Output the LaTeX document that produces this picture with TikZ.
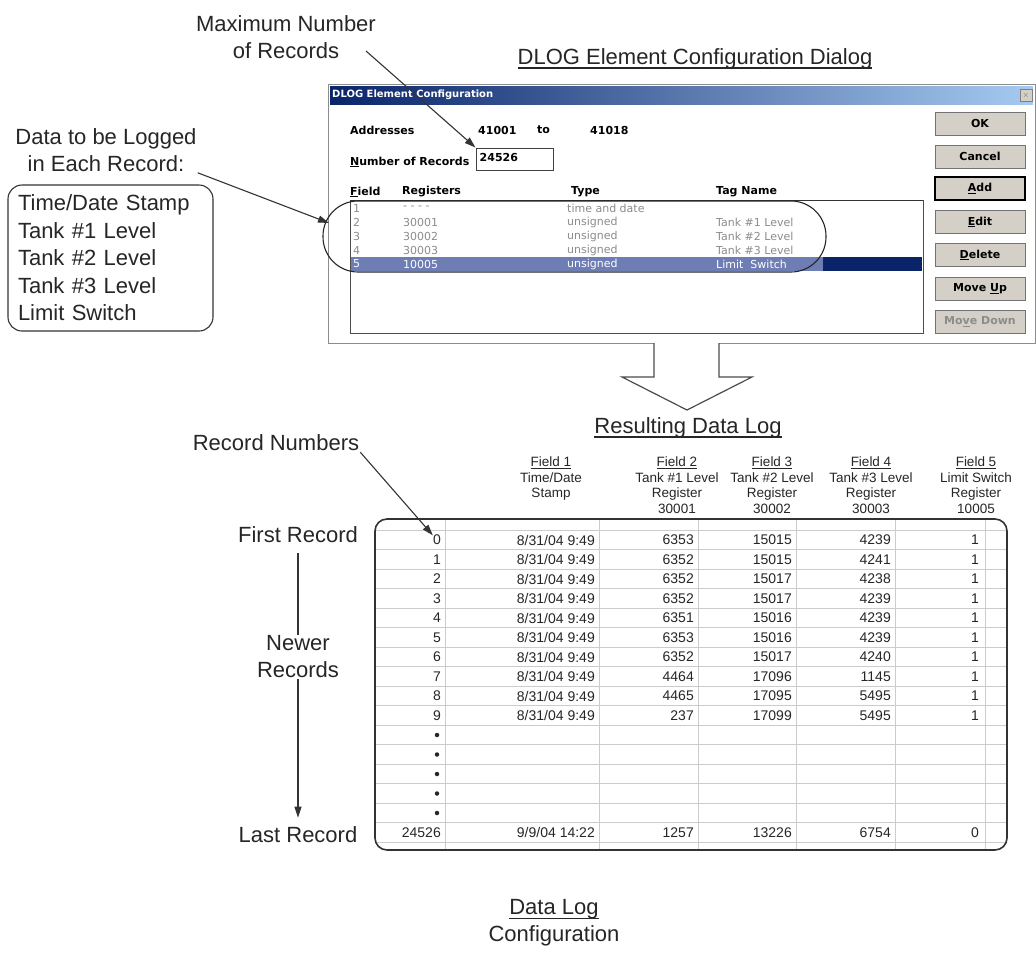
\documentclass[tikz,border=0pt]{standalone}
\usepackage{fontspec}
\setmainfont{Liberation Sans}
\newfontfamily\dlgfont{DejaVu Sans}
\usetikzlibrary{arrows.meta}
\usetikzlibrary{calc,positioning}
\definecolor{navy}{HTML}{0A246A}
\definecolor{titleblue}{HTML}{A6CAF0}
\definecolor{btngray}{HTML}{D4D0C8}
\definecolor{listgray}{HTML}{8C8C8C}
\definecolor{hilite}{HTML}{6E7DB4}
\definecolor{gridgray}{HTML}{CCCCCC}
\newsavebox\ulbox
% thick underline for the big captions
\newcommand{\thickul}[1]{\sbox\ulbox{#1}\leavevmode\rlap{\usebox\ulbox}\raisebox{-4pt}{\rule{\wd\ulbox}{1.3pt}}}
\begin{document}
\begin{tikzpicture}[x=1pt,y=-1pt,>={Stealth[length=11pt,width=7pt,inset=0pt]},
  biglbl/.style={font=\fontsize{22}{27}\selectfont,align=center,inner sep=1pt,text=black!85},
  arrline/.style={line width=1.1pt,black!80},
  dlgtxt/.style={font=\dlgfont\bfseries\fontsize{11}{13}\selectfont,anchor=west,inner sep=0pt},
  listtxt/.style={font=\dlgfont\fontsize{11}{13}\selectfont,anchor=west,inner sep=0pt,text=listgray},
  btn/.style={draw=black!55,fill=btngray,minimum width=90pt,minimum height=23pt,inner sep=0pt,
    font=\dlgfont\bfseries\fontsize{11}{13}\selectfont},
  cell/.style={font=\fontsize{14}{16}\selectfont,anchor=east,inner sep=0pt,text=black!85},
  hdr/.style={font=\fontsize{13.5}{15.5}\selectfont,align=center,anchor=north,inner sep=0pt,text=black!85},
  grid/.style={gridgray,line width=0.8pt}]
  \useasboundingbox (0,0) rectangle (1036,954);
  \fill[white] (0,0) rectangle (1036,954);

  % what gets logged
  \node[biglbl] (maxrec) at (286,37) {Maximum Number\\of Records};
  \node[biglbl] (logged) at (106,150) {Data to be Logged\\in Each Record:};
  \node[draw=black!80,line width=1.1pt,rounded corners=14pt,text width=185pt,inner xsep=10pt,
    inner ysep=0pt,minimum height=146pt,align=left,font=\fontsize{22}{27.5}\selectfont,text=black!85]
    (fields) at (110.5,258) {Time/Date Stamp\\Tank \#1 Level\\Tank \#2 Level\\Tank \#3 Level\\Limit Switch};
  \node[biglbl] (dlgcap) at (695,59) {\thickul{DLOG Element Configuration Dialog}};

  % the dialog window
  \fill[white] (328,84) rectangle (1035,343);
  \draw[black!45] (328,84) rectangle (1035,343);
  \shade[left color=navy,right color=titleblue] (330,86) rectangle (1033,104);
  \node[font=\dlgfont\bfseries\fontsize{10}{12}\selectfont,text=white,anchor=west,inner sep=0pt]
    (dlgtitle) at (332,95) {DLOG Element Configuration};
  \node[draw=black!50,fill=btngray,minimum width=12pt,minimum height=12pt,inner sep=0pt,
    text=black!60] (closebtn) at (1026,95) {\footnotesize$\times$};

  \node[dlgtxt] (addr) at (350,130) {Addresses};
  \node[dlgtxt] (afirst) at (478,130) {41001};
  \node[dlgtxt] (ato) at (537,130) {to};
  \node[dlgtxt] (alast) at (590,130) {41018};
  \node[dlgtxt] (numrec) at (350,162) {\underline{N}umber of Records};
  \node[draw=black!75,line width=1pt,minimum width=77pt,minimum height=22pt,inner sep=0pt]
    (recbox) at (514.5,159) {};
  \node[dlgtxt] (recval) at ([xshift=4pt,yshift=2pt]recbox.west) {24526};

  \node[dlgtxt] (hfield) at (350,192) {\underline{F}ield};
  \node[dlgtxt] (hreg) at (402,192) {Registers};
  \node[dlgtxt] (htype) at (571,192) {Type};
  \node[dlgtxt] (htag) at (716,192) {Tag Name};

  % list of fields
  \fill[hilite] (351,257) rectangle (823,271);
  \fill[navy] (823,257) rectangle (922,271);
  \draw[black!70,line width=1pt] (350,200) rectangle (923,333);
  \draw[black!80,line width=1.4pt] (350,200.5) -- (923,200.5);
  \foreach \f/\r/\t/\g [count=\i from 0] in {1/- - - -/time and date/{},
      2/30001/unsigned/Tank \#1 Level,3/30002/unsigned/Tank \#2 Level,4/30003/unsigned/Tank \#3 Level}{
    \node[listtxt] (lf-\f) at (353,{208+14*\i}) {\f};
    \node[listtxt] (lr-\f) at (403,{208+14*\i}) {\r};
    \node[listtxt] (lt-\f) at (567,{208+14*\i}) {\t};
    \node[listtxt] (lg-\f) at (716,{208+14*\i}) {\g};
  }
  \node[listtxt,text=white] (lf-5) at (353,264) {5};
  \node[listtxt,text=white] (lr-5) at (403,264) {10005};
  \node[listtxt,text=white] (lt-5) at (567,264) {unsigned};
  \node[listtxt,text=white] (lg-5) at (716,264) {Limit\ \ Switch};
  \node[draw=black!85,line width=1.1pt,rounded corners=35pt,minimum width=503pt,minimum height=71pt,
    inner sep=0pt] (circ) at (574.5,236.5) {};

  % buttons
  \node[btn] (okbtn) at (980,123.5) {OK};
  \node[btn] (cancelbtn) at (980,156.5) {Cancel};
  \node[btn,draw=black,line width=1.2pt] (addbtn) at (980,188.5) {\underline{A}dd};
  \node[btn] (editbtn) at (980,222) {\underline{E}dit};
  \node[btn] (delbtn) at (980,255) {\underline{D}elete};
  \node[btn] (upbtn) at (980,288.5) {Move \underline{U}p};
  \node[btn,text=black!45] (downbtn) at (980,321.5) {Mo\underline{v}e Down};

  % callouts into the dialog
  \coordinate (maxtail) at (366,51);
  \draw[arrline,->] (maxtail) -- (recbox.north west);
  \coordinate (circtip) at (329,223);
  \draw[arrline,->] (logged.south east) -- (circtip);

  % big hollow arrow
  \draw[line width=1.2pt,black!70,fill=white] (654,343) -- (654,377) -- (622,377) -- (687,410)
    -- (752,377) -- (719,377) -- (719,343);

  \node[biglbl] (result) at (688,428) {\thickul{Resulting Data Log}};

  % column headings
  \node[hdr] (f1) at (551,457) {\underline{Field 1}\\Time/Date\\Stamp};
  \node[hdr] (f2) at (677,457) {\underline{Field 2}\\Tank \#1 Level\\Register\\30001};
  \node[hdr] (f3) at (772,457) {\underline{Field 3}\\Tank \#2 Level\\Register\\30002};
  \node[hdr] (f4) at (871,457) {\underline{Field 4}\\Tank \#3 Level\\Register\\30003};
  \node[hdr] (f5) at (976,457) {\underline{Field 5}\\Limit Switch\\Register\\10005};

  % the log table
  \foreach \i in {0,...,16}
    \draw[grid] (376,{530.25+19.5*\i}) -- (1006,{530.25+19.5*\i});
  \foreach \x in {445,599,698,796,895,985}
    \draw[grid] (\x,520) -- (\x,849);
  \draw[line width=1.6pt,black!80,rounded corners=12pt] (375,519) rectangle (1007,850);

  \foreach \a/\b/\c/\d [count=\i from 0] in {6353/15015/4239/1,6352/15015/4241/1,6352/15017/4238/1,
      6352/15017/4239/1,6351/15016/4239/1,6353/15016/4239/1,6352/15017/4240/1,4464/17096/1145/1,
      4465/17095/5495/1,237/17099/5495/1}{
    \pgfmathsetmacro\yy{540+19.5*\i}
    \node[cell] (rec-\i) at (441,\yy) {\i};
    \node[cell] (time-\i) at (595,\yy) {8/31/04 9:49};
    \node[cell] (fa-\i) at (694,\yy) {\a};
    \node[cell] (fb-\i) at (792,\yy) {\b};
    \node[cell] (fc-\i) at (891,\yy) {\c};
    \node[cell] (fd-\i) at (979,\yy) {\d};
  }
  \foreach \i in {10,...,14}
    \node[circle,fill=black!85,inner sep=0pt,minimum size=4.5pt] (dot-\i) at (437,{540+19.5*\i}) {};
  \node[cell] (rec-last) at (441,832.5) {24526};
  \node[cell] (time-last) at (595,832.5) {9/9/04 14:22};
  \node[cell] (fa-last) at (694,832.5) {1257};
  \node[cell] (fb-last) at (792,832.5) {13226};
  \node[cell] (fc-last) at (891,832.5) {6754};
  \node[cell] (fd-last) at (979,832.5) {0};

  % record labels on the left
  \node[biglbl] (recnum) at (276,443) {Record Numbers};
  \draw[arrline,->] (recnum.south east) -- (rec-0);
  \node[biglbl] (first) at (298,535) {First Record};
  \node[biglbl] (newer) at (298,657) {Newer\\Records};
  \node[biglbl] (last) at (298,835) {Last Record};
  \draw[arrline,shorten <=9pt] (first) -- (newer);
  \draw[arrline,->,shorten >=8pt] (newer) -- (last);

  \node[biglbl] (dlconf) at (554,923) {\thickul{Data Log}\\Configuration};
\end{tikzpicture}
\end{document}
